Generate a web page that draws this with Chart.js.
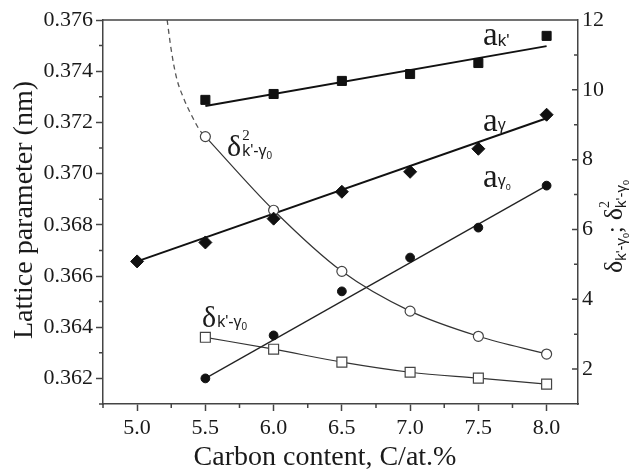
<!DOCTYPE html>
<html lang="en">
<head>
<meta charset="UTF-8" />
<script src="https://cdn.jsdelivr.net/npm/chart.js"></script>
<title>Lattice parameter vs carbon content</title>
<style>
  body { margin: 0; background: #fff; }
  canvas { display: block; }
</style>
</head>
<body>
<canvas id="latticeChart" width="635" height="474"></canvas>
<script>
// measured points
const carbon = [5.5, 6.0, 6.5, 7.0, 7.5, 8.0];
const carbonGamma = [5.0, 5.5, 6.0, 6.5, 7.0, 7.5, 8.0];
const aK = [0.37288, 0.37311, 0.37362, 0.37389, 0.37432, 0.37538];
const aGamma = [0.36657, 0.36731, 0.36824, 0.36929, 0.37007, 0.37097, 0.3723];
const aGamma0 = [0.3620, 0.36368, 0.3654, 0.36672, 0.36789, 0.36953];
const deltaSq = [8.66, 6.55, 4.8, 3.66, 2.94, 2.43];
const delta = [2.91, 2.57, 2.2, 1.91, 1.74, 1.57];

// straight fits (end points)
const fitX = [5.5, 8.0];
const fitK = [0.37264, 0.37498];
const fitGammaX = [5.0, 8.0];
const fitGamma = [0.36657, 0.37216];
const fitGamma0 = [0.3620, 0.36953];

// dashed extrapolation of delta^2
const extX = [5.22, 5.25, 5.287, 5.346, 5.404, 5.456, 5.5];
const extY = [12, 11.14, 10.37, 9.71, 9.23, 8.86, 8.66];

const xTicks = [5.0, 5.5, 6.0, 6.5, 7.0, 7.5, 8.0];
const xMinor = [4.75, 5.25, 5.75, 6.25, 6.75, 7.25, 7.75];
const leftTicks = [0.362, 0.364, 0.366, 0.368, 0.370, 0.372, 0.374, 0.376];
const leftMinor = [0.361, 0.363, 0.365, 0.367, 0.369, 0.371, 0.373, 0.375];
const rightTicks = [2, 4, 6, 8, 10, 12];
const rightMinor = [3, 5, 7, 9, 11];

const pts = (xs, ys) => xs.map((x, i) => ({ x: x, y: ys[i] }));

const SERIF = "'Liberation Serif', 'Times New Roman', serif";
const SANS = "'Liberation Sans', Arial, sans-serif";
const INK = '#111';
const AXIS = '#444';

function parts(ctx, x, y, list) {
    let cx = x;
    list.forEach(p => {
        ctx.font = p.font;
        ctx.fillText(p.t, cx, y + (p.dy || 0));
        if (!p.stay) cx += ctx.measureText(p.t).width + (p.gap || 0);
    });
}

const decor = {
    id: 'decor',
    afterDraw(chart) {
        const ctx = chart.ctx;
        const a = chart.chartArea;
        const sx = chart.scales.x, sy = chart.scales.y, sy2 = chart.scales.y2;
        ctx.save();
        ctx.strokeStyle = AXIS;
        ctx.lineWidth = 1.5;
        ctx.beginPath();
        ctx.moveTo(a.left, a.top);
        ctx.lineTo(a.right, a.top);
        // minor ticks, outward on x and left
        xMinor.forEach(v => {
            const p = sx.getPixelForValue(v);
            ctx.moveTo(p, a.bottom); ctx.lineTo(p, a.bottom + 4);
        });
        leftMinor.forEach(v => {
            const p = sy.getPixelForValue(v);
            ctx.moveTo(a.left, p); ctx.lineTo(a.left - 4, p);
        });
        // right axis ticks point inward
        rightTicks.forEach(v => {
            const p = sy2.getPixelForValue(v);
            ctx.moveTo(a.right, p); ctx.lineTo(a.right - 6, p);
        });
        rightMinor.forEach(v => {
            const p = sy2.getPixelForValue(v);
            ctx.moveTo(a.right, p); ctx.lineTo(a.right - 4, p);
        });
        ctx.stroke();

        ctx.fillStyle = '#1a1a1a';
        ctx.textBaseline = 'alphabetic';

        // axis titles
        ctx.textAlign = 'center';
        ctx.font = '28px ' + SERIF;
        ctx.fillText('Carbon content, C/at.%', 325, 465);
        ctx.save();
        ctx.translate(32, 210);
        ctx.rotate(-Math.PI / 2);
        ctx.fillText('Lattice parameter (nm)', 0, 0);
        ctx.restore();

        ctx.textAlign = 'left';
        ctx.save();
        ctx.translate(622, 273);
        ctx.rotate(-Math.PI / 2);
        parts(ctx, 0, 0, [
            { t: 'δ', font: '26px ' + SERIF },
            { t: "k'-γ", font: '15px ' + SANS, dy: 4 },
            { t: '0', font: '9px ' + SANS, dy: 7 },
            { t: '; ', font: '24px ' + SERIF },
            { t: 'δ', font: '26px ' + SERIF },
            { t: '2', font: '14px ' + SERIF, dy: -13, stay: true },
            { t: "k'-γ", font: '15px ' + SANS, dy: 4 },
            { t: '0', font: '9px ' + SANS, dy: 7 }
        ]);
        ctx.restore();

        // series labels
        parts(ctx, 483, 45, [
            { t: 'a', font: '33px ' + SERIF },
            { t: "k'", font: '17px ' + SANS, dy: 1 }
        ]);
        parts(ctx, 483, 131, [
            { t: 'a', font: '33px ' + SERIF },
            { t: 'γ', font: '16px ' + SANS, dy: -1 }
        ]);
        parts(ctx, 483, 187, [
            { t: 'a', font: '33px ' + SERIF },
            { t: 'γ', font: '16px ' + SANS, dy: -1 },
            { t: '0', font: '9px ' + SANS, dy: 3 }
        ]);
        parts(ctx, 227, 156, [
            { t: 'δ', font: '30px ' + SERIF, gap: 1 },
            { t: '2', font: '15px ' + SERIF, dy: -16, stay: true },
            { t: "k'-γ", font: '16px ' + SANS, dy: 0 },
            { t: '0', font: '10px ' + SANS, dy: 3 }
        ]);
        parts(ctx, 202, 327, [
            { t: 'δ', font: '30px ' + SERIF, gap: 1 },
            { t: "k'-γ", font: '16px ' + SANS, dy: 0 },
            { t: '0', font: '10px ' + SANS, dy: 3 }
        ]);
        ctx.restore();
    }
};

function setTicks(list) {
    return scale => { scale.ticks = list.map(v => ({ value: v })); };
}

const latticeChart = new Chart(document.getElementById('latticeChart'), {
    type: 'line',
    data: {
        datasets: [
            // markers
            { data: pts(carbon, aK), showLine: false, pointStyle: 'rect', pointRadius: 6.4,
              backgroundColor: INK, borderColor: INK, borderWidth: 1, yAxisID: 'y', order: 0 },
            { data: pts(carbonGamma, aGamma), showLine: false, pointStyle: 'rectRot', pointRadius: 6.5,
              backgroundColor: INK, borderColor: INK, borderWidth: 1, yAxisID: 'y', order: 0 },
            { data: pts(carbon, aGamma0), showLine: false, pointStyle: 'circle', pointRadius: 4.4,
              backgroundColor: INK, borderColor: INK, borderWidth: 1, yAxisID: 'y', order: 0 },
            { data: pts(carbon, deltaSq), showLine: true, pointStyle: 'circle', pointRadius: 5,
              backgroundColor: '#fff', borderColor: '#333', borderWidth: 1.2, pointBorderColor: '#444',
              cubicInterpolationMode: 'monotone', yAxisID: 'y2', order: 0 },
            { data: pts(carbon, delta), showLine: true, pointStyle: 'rect', pointRadius: 7,
              backgroundColor: '#fff', borderColor: '#333', borderWidth: 1.2, pointBorderColor: '#444',
              cubicInterpolationMode: 'monotone', yAxisID: 'y2', order: 0 },
            // fitted lines
            { data: pts(fitX, fitK), pointRadius: 0, borderColor: INK, borderWidth: 2, yAxisID: 'y', order: 1 },
            { data: pts(fitGammaX, fitGamma), pointRadius: 0, borderColor: INK, borderWidth: 2, yAxisID: 'y', order: 1 },
            { data: pts(fitX, fitGamma0), pointRadius: 0, borderColor: '#222', borderWidth: 1.3, yAxisID: 'y', order: 1 },
            { data: pts(extX, extY), pointRadius: 0, borderColor: '#555', borderWidth: 1.3, borderDash: [5, 4],
              cubicInterpolationMode: 'monotone', yAxisID: 'y2', order: 1 }
        ]
    },
    options: {
        responsive: false,
        animation: false,
        events: [],
        layout: { padding: { top: 20, left: 0, right: 0, bottom: 0 } },
        plugins: { legend: { display: false }, tooltip: { enabled: false } },
        scales: {
            x: {
                type: 'linear', min: 4.75, max: 8.23,
                afterBuildTicks: setTicks(xTicks),
                afterFit: s => { s.height = 70; },
                grid: { drawOnChartArea: false, tickLength: 7, tickColor: AXIS, tickWidth: 1.5 },
                border: { color: AXIS, width: 1.5 },
                ticks: { color: '#1a1a1a', padding: 4, maxRotation: 0,
                         font: { family: SERIF, size: 22 }, callback: v => v.toFixed(1) }
            },
            y: {
                position: 'left', min: 0.361, max: 0.376,
                afterBuildTicks: setTicks(leftTicks),
                afterFit: s => { s.width = 103; },
                grid: { drawOnChartArea: false, tickLength: 7, tickColor: AXIS, tickWidth: 1.5 },
                border: { color: AXIS, width: 1.5 },
                ticks: { color: '#1a1a1a', padding: 3,
                         font: { family: SERIF, size: 22 }, callback: v => v.toFixed(3) }
            },
            y2: {
                position: 'right', min: 1, max: 12,
                afterBuildTicks: setTicks(rightTicks),
                afterFit: s => { s.width = 57; },
                grid: { drawOnChartArea: false, drawTicks: false },
                border: { color: AXIS, width: 1.5 },
                ticks: { color: '#1a1a1a', padding: 4,
                         font: { family: SERIF, size: 22 } }
            }
        }
    },
    plugins: [decor]
});
</script>
</body>
</html>
